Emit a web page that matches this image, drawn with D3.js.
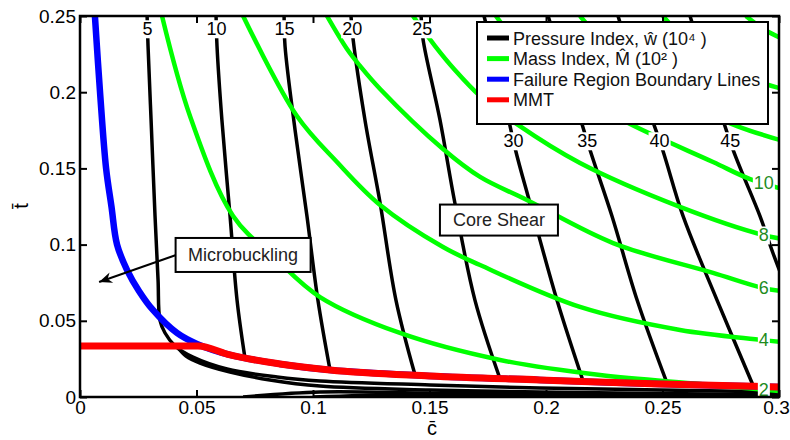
<!DOCTYPE html>
<html>
<head>
<meta charset="utf-8">
<script src="https://cdn.jsdelivr.net/npm/d3@7"></script>
<style>
  body { margin: 0; background: #fff; }
  svg { font-family: 'Liberation Sans', Arial, Helvetica, sans-serif; }
</style>
</head>
<body>
<div id="chart"></div>
<script>
// axis ticks
const xTicks = [0, 0.05, 0.1, 0.15, 0.2, 0.25, 0.3];
const yTicks = [0, 0.05, 0.1, 0.15, 0.2, 0.25];

// pressure index contours (10^4), points are [c, t]
const wLevels = [5, 10, 15, 20, 25, 30, 35, 40, 45];
const w5 = [[0.0288, 0.25], [0.0292, 0.2303], [0.0305, 0.1818], [0.0322, 0.1188], [0.0335, 0.0768], [0.0343, 0.0505],
    [0.0365, 0.042], [0.0408, 0.0335], [0.0485, 0.0262], [0.0631, 0.0184], [0.0846, 0.0131], [0.103, 0.0105],
    [0.1502, 0.0079], [0.1974, 0.0059], [0.2489, 0.0046], [0.3, 0.0033]];
const w10 = [[0.0584, 0.25], [0.0588, 0.2303], [0.0609, 0.1818], [0.0644, 0.1188], [0.0674, 0.0636], [0.0708, 0.0256]];
const w15 = [[0.0876, 0.25], [0.088, 0.2303], [0.0923, 0.1752], [0.0974, 0.1188], [0.1021, 0.0636], [0.1073, 0.0177]];
const w20 = [[0.1163, 0.25], [0.1172, 0.2349], [0.1223, 0.1818], [0.1288, 0.1273], [0.1356, 0.0636], [0.1438, 0.0144]];
const w25 = [[0.1464, 0.25], [0.1472, 0.2349], [0.1545, 0.1818], [0.1609, 0.1273], [0.1695, 0.0636], [0.1803, 0.0118]];
const w30 = [[0.1734, 0.25], [0.1803, 0.208], [0.1867, 0.1634], [0.1931, 0.1273], [0.2047, 0.0636], [0.2159, 0.0105]];
const w35 = [[0.2009, 0.25], [0.2103, 0.2047], [0.2189, 0.1621], [0.2283, 0.1188], [0.2391, 0.0636], [0.2519, 0.0092]];
const w40 = [[0.2309, 0.25], [0.2403, 0.2047], [0.2498, 0.1634], [0.2588, 0.1188], [0.2734, 0.0636], [0.2888, 0.0079]];
const w45 = [[0.2618, 0.25], [0.2712, 0.2047], [0.2803, 0.1621], [0.2918, 0.1188], [0.2974, 0.0945], [0.3026, 0.0735]];
// lower branches hugging t = 0
const w10Low = [[0.0421, 0.0322], [0.0455, 0.0269], [0.0515, 0.0223], [0.0644, 0.0164], [0.0815, 0.0112], [0.103, 0.0072],
    [0.1502, 0.0046], [0.1974, 0.0033], [0.2489, 0.0023], [0.3, 0.0016]];
const w15Low = [[0.07, 0.0], [0.103, 0.0033], [0.1502, 0.0025], [0.1974, 0.0017], [0.2489, 0.0011], [0.3, 0.0007]];
const w20Low = [[0.1, 0.0], [0.1373, 0.0015], [0.1803, 0.001], [0.2232, 0.0005]];

// mass index contours (10^2)
const mLevels = [2, 4, 6, 8, 10];
const m2 = [[0.0352, 0.25], [0.0472, 0.1844], [0.0657, 0.1188], [0.0841, 0.0906], [0.103, 0.0656], [0.1373, 0.042],
    [0.1803, 0.0243], [0.2232, 0.0144], [0.2661, 0.0085], [0.3, 0.0039]];
const m4 = [[0.07, 0.25], [0.0931, 0.1844], [0.1103, 0.1542], [0.1288, 0.126], [0.1558, 0.0984], [0.1717, 0.0866],
    [0.2146, 0.0591], [0.2575, 0.044], [0.2931, 0.0374], [0.3047, 0.0354]];
const m6 = [[0.106, 0.25], [0.1146, 0.2283], [0.1202, 0.2172], [0.1288, 0.2021], [0.1558, 0.1627], [0.1717, 0.1444],
    [0.1918, 0.1293], [0.2288, 0.101], [0.2717, 0.0814], [0.2931, 0.0715], [0.3047, 0.0689]];
const m8 = [[0.1429, 0.25], [0.1524, 0.2303], [0.1609, 0.2146], [0.1717, 0.1975], [0.188, 0.1785], [0.2146, 0.1535],
    [0.2575, 0.1247], [0.2931, 0.1063], [0.3047, 0.103]];
const m10 = [[0.1785, 0.25], [0.188, 0.2316], [0.1996, 0.2146], [0.2146, 0.1975], [0.2361, 0.1791], [0.2717, 0.1542],
    [0.2876, 0.143], [0.3047, 0.1352]];
const m12 = [[0.2146, 0.25], [0.2253, 0.2316], [0.2382, 0.2146], [0.2575, 0.1949], [0.282, 0.1778], [0.3047, 0.1667]];
const m14 = [[0.2502, 0.25], [0.2618, 0.231], [0.2747, 0.2159], [0.3047, 0.2008]];
const m16 = [[0.2858, 0.25], [0.294, 0.2408], [0.3047, 0.2329]];

// failure region boundary and minimum mass trajectory
const boundary = [[0.0064, 0.25], [0.0086, 0.2], [0.0112, 0.15], [0.0135, 0.125], [0.0159, 0.1], [0.0202, 0.0833],
    [0.0253, 0.0696], [0.0313, 0.0571], [0.0416, 0.042], [0.0502, 0.0348], [0.0644, 0.0276], [0.0858, 0.0217],
    [0.1073, 0.0177], [0.1502, 0.0138], [0.1974, 0.0112], [0.2489, 0.0085], [0.3, 0.0066]];
const mmt = [[0, 0.0335], [0.0506, 0.0335], [0.0644, 0.0276], [0.0858, 0.0217], [0.1073, 0.0177], [0.1502, 0.0138],
    [0.1974, 0.0112], [0.2489, 0.0085], [0.3, 0.0066]];

const legendItems = ['Pressure Index, \u0175 (10\u2074 )', 'Mass Index, M\u0302 (10\u00b2 )', 'Failure Region Boundary Lines', 'MMT'];

const width = 790;
const height = 440;
const margin = { top: 16, right: 11, bottom: 43, left: 80 };

let x = d3.scaleLinear()
    .domain([0, 0.3])
    .range([margin.left, width - margin.right]);

let y = d3.scaleLinear()
    .domain([0, 0.25])
    .range([height - margin.bottom, margin.top]);

const svg = d3.select('#chart')
    .append('svg')
    .attr('width', width)
    .attr('height', height);

svg.append('rect')
    .attr('width', width)
    .attr('height', height)
    .attr('fill', '#fff');

svg.append('clipPath')
    .attr('id', 'plotClip')
    .append('rect')
    .attr('x', x(0))
    .attr('y', y(0.25))
    .attr('width', x(0.3) - x(0))
    .attr('height', y(0) - y(0.25));

let smooth = d3.line()
    .x(d => x(d[0]))
    .y(d => y(d[1]))
    .curve(d3.curveCatmullRom.alpha(0.5));

let mono = d3.line()
    .x(d => x(d[0]))
    .y(d => y(d[1]))
    .curve(d3.curveMonotoneX);

const plot = svg.append('g').attr('clip-path', 'url(#plotClip)');

const wCurves = [w5, w10, w15, w20, w25, w30, w35, w40, w45];
const mCurves = [m2, m4, m6, m8, m10, m12, m14, m16];

[...wCurves, w10Low, w15Low, w20Low].forEach(pts => {
    plot.append('path')
        .attr('d', smooth(pts))
        .attr('fill', 'none')
        .attr('stroke', '#000')
        .attr('stroke-width', 3.5);
});

mCurves.forEach(pts => {
    plot.append('path')
        .attr('d', smooth(pts))
        .attr('fill', 'none')
        .attr('stroke', '#00ff00')
        .attr('stroke-width', 4.5);
});

plot.append('path')
    .attr('d', smooth(boundary))
    .attr('fill', 'none')
    .attr('stroke', '#0000ff')
    .attr('stroke-width', 6.5);

plot.append('path')
    .attr('d', mono(mmt))
    .attr('fill', 'none')
    .attr('stroke', '#ff0000')
    .attr('stroke-width', 7);

// contour labels sit on the curve, with white behind them
function cAtT(pts, t) {
    for (let i = 1; i < pts.length; i++) {
        let a = pts[i - 1], b = pts[i];
        if ((a[1] - t) * (b[1] - t) <= 0) {
            return a[0] + (b[0] - a[0]) * (t - a[1]) / (b[1] - a[1]);
        }
    }
    return pts[0][0];
}
function tAtC(pts, c) {
    for (let i = 1; i < pts.length; i++) {
        let a = pts[i - 1], b = pts[i];
        if ((a[0] - c) * (b[0] - c) <= 0) {
            return a[1] + (b[1] - a[1]) * (c - a[0]) / (b[0] - a[0]);
        }
    }
    return pts[pts.length - 1][1];
}
function inlineLabel(px, py, txt, color) {
    let g = svg.append('g');
    let t = g.append('text')
        .attr('x', px)
        .attr('y', py)
        .attr('dy', '0.35em')
        .attr('text-anchor', 'middle')
        .attr('font-size', 18)
        .attr('fill', color)
        .text(txt);
    let bb = t.node().getBBox();
    g.insert('rect', 'text')
        .attr('x', bb.x - 1)
        .attr('y', bb.y + 1)
        .attr('width', bb.width + 2)
        .attr('height', bb.height - 2)
        .attr('fill', '#fff');
}

wLevels.forEach((lv, i) => {
    let tl = lv <= 25 ? 0.2415 : 0.168;
    inlineLabel(x(cAtT(wCurves[i], tl)), y(tl), lv, '#000');
});
mLevels.forEach((lv, i) => {
    let cl = 0.2935;
    inlineLabel(x(cl), y(tAtC(mCurves[i], cl)), lv, '#1e8c1e');
});

// annotation boxes
svg.append('defs').append('marker')
    .attr('id', 'arrowHead')
    .attr('viewBox', '-14 -6 16 12')
    .attr('refX', 0)
    .attr('refY', 0)
    .attr('markerWidth', 16)
    .attr('markerHeight', 12)
    .attr('markerUnits', 'userSpaceOnUse')
    .attr('orient', 'auto')
    .append('path')
    .attr('d', 'M0,0 L-13,-5.5 L-9,0 L-13,5.5 Z')
    .attr('fill', '#000');

function textBox(c, t, w, h, txt) {
    svg.append('rect')
        .attr('x', x(c) - w / 2)
        .attr('y', y(t) - h / 2)
        .attr('width', w)
        .attr('height', h)
        .attr('fill', '#fff')
        .attr('stroke', '#000')
        .attr('stroke-width', 2);
    svg.append('text')
        .attr('x', x(c))
        .attr('y', y(t))
        .attr('dy', '0.35em')
        .attr('text-anchor', 'middle')
        .attr('font-size', 18)
        .attr('fill', '#222')
        .text(txt);
}

svg.append('line')
    .attr('x1', x(0.07) - 67)
    .attr('y1', y(0.0932))
    .attr('x2', x(0.0082))
    .attr('y2', y(0.0755))
    .attr('stroke', '#000')
    .attr('stroke-width', 2)
    .attr('marker-end', 'url(#arrowHead)');
textBox(0.07, 0.0932, 135, 34, 'Microbuckling');
textBox(0.1798, 0.1161, 118, 31, 'Core Shear');

// legend
const legend = svg.append('g');
legend.append('rect')
    .attr('x', 477)
    .attr('y', 22)
    .attr('width', 291)
    .attr('height', 102)
    .attr('fill', '#fff')
    .attr('stroke', '#000')
    .attr('stroke-width', 2);
const legendColors = ['#000', '#00ff00', '#0000ff', '#ff0000'];
legendItems.forEach((name, i) => {
    let ly = 38 + i * 20.6;
    legend.append('line')
        .attr('x1', 487).attr('x2', 509)
        .attr('y1', ly).attr('y2', ly)
        .attr('stroke', legendColors[i])
        .attr('stroke-width', 5);
    legend.append('text')
        .attr('x', 513)
        .attr('y', ly + 6.5)
        .attr('font-size', 18)
        .attr('fill', '#111')
        .text(name);
});

// axes, ticks pointing inwards
const axisB = svg.append('g')
    .attr('transform', `translate(0,${y(0)})`)
    .call(d3.axisBottom(x).tickValues(xTicks).tickSizeInner(-7).tickSizeOuter(0).tickPadding(4).tickFormat(d => d));
const axisL = svg.append('g')
    .attr('transform', `translate(${x(0)},0)`)
    .call(d3.axisLeft(y).tickValues(yTicks).tickSizeInner(-7).tickSizeOuter(0).tickPadding(4).tickFormat(d => d));
const axisT = svg.append('g')
    .attr('transform', `translate(0,${y(0.25)})`)
    .call(d3.axisTop(x).tickValues(xTicks).tickSizeInner(-7).tickSizeOuter(0).tickFormat(''));
const axisR = svg.append('g')
    .attr('transform', `translate(${x(0.3)},0)`)
    .call(d3.axisRight(y).tickValues(yTicks).tickSizeInner(-7).tickSizeOuter(0).tickFormat(''));
[axisB, axisL, axisT, axisR].forEach(g => {
    g.attr('font-size', 19).attr('font-family', "'Liberation Sans', Arial, sans-serif");
    g.select('.domain').remove();
    g.selectAll('.tick line').attr('stroke', '#000').attr('stroke-width', 2);
    g.selectAll('.tick text').attr('fill', '#000');
});
// keep the last x label inside the picture
axisB.selectAll('.tick text').filter(d => d === 0.3).attr('dx', -3);

svg.append('rect')
    .attr('x', x(0))
    .attr('y', y(0.25))
    .attr('width', x(0.3) - x(0))
    .attr('height', y(0) - y(0.25))
    .attr('fill', 'none')
    .attr('stroke', '#000')
    .attr('stroke-width', 2.5);

svg.append('text')
    .attr('x', 432)
    .attr('y', 435)
    .attr('text-anchor', 'middle')
    .attr('font-size', 20)
    .text('c\u0304');

svg.append('text')
    .attr('transform', 'translate(28,206) rotate(-90)')
    .attr('text-anchor', 'middle')
    .attr('font-size', 20)
    .text('t\u0304');
</script>
</body>
</html>
